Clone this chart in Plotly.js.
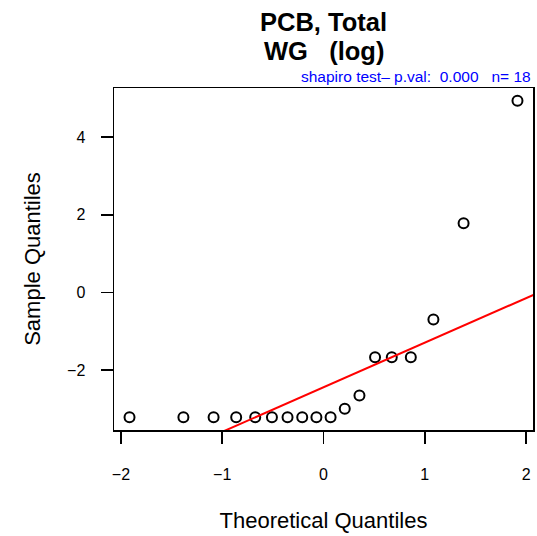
<!DOCTYPE html>
<html>
<head>
<meta charset="utf-8">
<script src="https://cdn.plot.ly/plotly-3.0.1.min.js"></script>
<style>html,body{margin:0;padding:0;background:#fff;}</style>
</head>
<body>
<div id="chart" style="width:537px;height:536px;"></div>
<script>
// Theoretical normal quantiles (x) and sorted sample values (y, log scale)
var theoretical = [-1.915, -1.383, -1.085, -0.862, -0.674, -0.509, -0.355, -0.210, -0.070,
                    0.070,  0.210,  0.355,  0.509,  0.674,  0.862,  1.085,  1.383,  1.915];
var sample = [-3.22, -3.22, -3.22, -3.22, -3.22, -3.22, -3.22, -3.22, -3.22, -3.22,
              -3.00, -2.66, -1.67, -1.67, -1.67, -0.70, 1.78, 4.94];
var titleLines = ["PCB, Total", "WG\u00A0\u00A0\u00A0(log)"];
var subtitle = "shapiro test\u2013 p.val:\u00A0\u00A00.000\u00A0\u00A0\u00A0n= 18";
var xTicks = [-2, -1, 0, 1, 2];
var yTicks = [-2, 0, 2, 4];

function quantile7(arr, p) {
  var s = arr.slice().sort(function(a, b) { return a - b; });
  var h = (s.length - 1) * p, lo = Math.floor(h), hi = Math.ceil(h);
  return s[lo] + (h - lo) * (s[hi] - s[lo]);
}
// qqline through the first and third quartiles
var qy1 = quantile7(sample, 0.25), qy3 = quantile7(sample, 0.75);
var zq = 0.6744897501960817;
var slope = (qy3 - qy1) / (2 * zq);
var intercept = qy1 + slope * zq;

function padRange(a) {
  var mn = Math.min.apply(null, a), mx = Math.max.apply(null, a), d = (mx - mn) * 0.04;
  return [mn - d, mx + d];
}
var xr = padRange(theoretical), yr = padRange(sample);
var lineX = [xr[0] - 1, xr[1] + 1];
var lineY = lineX.map(function(x) { return intercept + slope * x; });

var font = "Liberation Sans, Arial, Helvetica, sans-serif";
function lbl(v) { return v < 0 ? '\u2212' + (-v) : String(v); }

var traces = [
  {x: theoretical, y: sample, type: 'scatter', mode: 'markers',
   marker: {symbol: 'circle-open', size: 10, color: '#000', line: {width: 2, color: '#000'}},
   hoverinfo: 'x+y', cliponaxis: false},
  {x: lineX, y: lineY, type: 'scatter', mode: 'lines',
   line: {color: '#ff0000', width: 2}, hoverinfo: 'skip'}
];

var axisCommon = {
  showgrid: false, zeroline: false, showline: true, mirror: true,
  linecolor: '#000', linewidth: 1.5, ticks: 'outside', ticklen: 12, tickwidth: 1.5,
  tickcolor: '#000', tickfont: {family: font, size: 16, color: '#000'}, fixedrange: true
};

var layout = {
  width: 537, height: 536,
  margin: {l: 114, r: 4, t: 88, b: 106},
  paper_bgcolor: '#fff', plot_bgcolor: '#fff',
  showlegend: false,
  xaxis: Object.assign({}, axisCommon, {
    range: xr, tickmode: 'array', tickvals: xTicks, ticktext: xTicks.map(lbl),
    ticklabelstandoff: 17,
    title: {text: 'Theoretical Quantiles', font: {family: font, size: 22, color: '#000'}, standoff: 31}
  }),
  yaxis: Object.assign({}, axisCommon, {
    range: yr, tickmode: 'array', tickvals: yTicks, ticktext: yTicks.map(lbl),
    ticklabelstandoff: 12,
    title: {text: 'Sample Quantiles', font: {family: font, size: 22, color: '#000'}, standoff: 20}
  }),
  annotations: [
    {text: '<b>' + titleLines[0] + '</b>', xref: 'paper', yref: 'paper', x: 0.5, y: 1, yshift: 66,
     xanchor: 'center', yanchor: 'middle', showarrow: false, font: {family: font, size: 25.5, color: '#000'}},
    {text: '<b>' + titleLines[1] + '</b>', xref: 'paper', yref: 'paper', x: 0.5, y: 1, yshift: 37,
     xanchor: 'center', yanchor: 'middle', showarrow: false, font: {family: font, size: 25.5, color: '#000'}},
    {text: subtitle, xref: 'paper', yref: 'paper', x: 1, y: 1, yshift: 12,
     xanchor: 'right', yanchor: 'middle', showarrow: false, font: {family: font, size: 15.5, color: '#0000ff'}}
  ]
};

Plotly.newPlot('chart', traces, layout, {displayModeBar: false, staticPlot: true});
</script>
</body>
</html>
